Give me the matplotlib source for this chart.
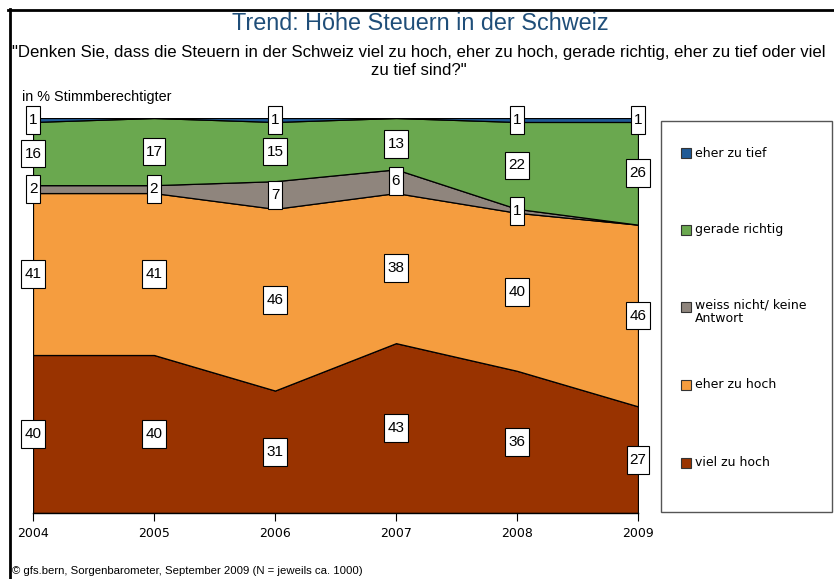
import matplotlib
matplotlib.use("Agg")
import matplotlib.pyplot as plt
from matplotlib.patches import Rectangle
from matplotlib.lines import Line2D
from matplotlib.path import Path
import numpy as np

years = [2004, 2005, 2006, 2007, 2008, 2009]
viel_zu_hoch = [40, 40, 31, 43, 36, 27]
eher_zu_hoch = [41, 41, 46, 38, 40, 46]
weiss_nicht = [2, 2, 7, 6, 1, 0]
gerade_richtig = [16, 17, 15, 13, 22, 26]
eher_zu_tief = [1, 0, 1, 0, 1, 1]

series_names = ["viel zu hoch", "eher zu hoch", "weiss nicht/ keine\nAntwort",
                "gerade richtig", "eher zu tief"]
series_vals = [viel_zu_hoch, eher_zu_hoch, weiss_nicht, gerade_richtig, eher_zu_tief]
colors = ["#993300", "#F59D3F", "#8F857D", "#6AA84F", "#1F5A96"]

title = "Trend: Höhe Steuern in der Schweiz"
subtitle_l1 = ("\"Denken Sie, dass die Steuern in der Schweiz viel zu hoch, eher zu hoch, "
               "gerade richtig, eher zu tief oder viel")
subtitle_l2 = "zu tief sind?\""
ylabel_note = "in % Stimmberechtigter"
footer = "© gfs.bern, Sorgenbarometer, September 2009 (N = jeweils ca. 1000)"

ARIAL = ["Liberation Sans", "DejaVu Sans"]
TAHOMA = ["DejaVu Sans"]
W, H = 834, 579

fig = plt.figure(figsize=(W / 100, H / 100), dpi=100)

def fx(px):
    return px / W

def fy(py):
    return 1 - py / H

ax = fig.add_axes([fx(33), fy(513), fx(638) - fx(33), fy(118) - fy(513)])

x = np.array(years, dtype=float)
base = np.zeros(len(years))
for vals, col in zip(series_vals, colors):
    v = np.array(vals, dtype=float)
    ax.fill_between(x, base, base + v, facecolor=col, edgecolor="black", linewidth=0.9, zorder=2)
    base = base + v

ax.set_xlim(2004, 2009)
ax.set_ylim(0, 100)
ax.set_yticks([])
ax.set_xticks(years)
ax.set_xticklabels([str(y) for y in years], family=TAHOMA, fontsize=9)
ax.tick_params(axis="x", length=6, width=0.8, color="black", pad=4)
for s in ["top", "right", "left"]:
    ax.spines[s].set_visible(False)
ax.spines["bottom"].set_color("black")
ax.spines["bottom"].set_linewidth(1.0)
ax.patch.set_alpha(0)


def make_box(padx, pady):
    def style(x0, y0, width, height, mutation_size):
        px = padx * mutation_size
        py = pady * mutation_size
        xa, ya = x0 - px, y0 - py
        xb, yb = x0 + width + px, y0 + height + py
        return Path([(xa, ya), (xb, ya), (xb, yb), (xa, yb), (xa, ya)], closed=True)
    return style

box = make_box(0.2, 0.45)

base = np.zeros(len(years))
for vals in series_vals:
    for i, (yr, v) in enumerate(zip(years, vals)):
        if v > 0:
            ax.text(yr, base[i] + v / 2.0, str(v), ha="center", va="center",
                    fontsize=11, family=ARIAL, zorder=5, clip_on=False,
                    bbox=dict(boxstyle=box, facecolor="white", edgecolor="black", linewidth=0.8))
    base = base + np.array(vals)

# Titles and notes
fig.text(fx(420), fy(30), title, ha="center", va="baseline", fontsize=16.8,
         color="#1F4E79", family=ARIAL)
fig.text(fx(419), fy(52), subtitle_l1, ha="center", va="center", fontsize=12.1, family=ARIAL)
fig.text(fx(419), fy(70), subtitle_l2, ha="center", va="center", fontsize=12.1, family=ARIAL)
fig.text(fx(22), fy(97), ylabel_note, ha="left", va="center", fontsize=10.4, family=ARIAL)
fig.text(fx(12), fy(571), footer, ha="left", va="center", fontsize=8.2, family=ARIAL)

# Legend (manual box)
fig.patches.append(Rectangle((fx(661), fy(512)), fx(832) - fx(661), fy(121) - fy(512),
                             transform=fig.transFigure, facecolor="white",
                             edgecolor="#555555", linewidth=1.0))
legend_y = [463, 385, 307, 230, 153]
for name, col, ly in zip(series_names, colors, legend_y):
    fig.patches.append(Rectangle((fx(681), fy(ly + 5)), fx(10), 10 / H,
                                 transform=fig.transFigure, facecolor=col,
                                 edgecolor="#333333", linewidth=0.8))
    if "\n" in name:
        fig.text(fx(695), fy(ly - 8), name, ha="left", va="top", fontsize=9,
                 family=TAHOMA, linespacing=1.0)
    else:
        fig.text(fx(695), fy(ly), name, ha="left", va="center", fontsize=9,
                 family=TAHOMA)

# Slide frame lines
fig.add_artist(Line2D([fx(8), fx(834)], [fy(9.5), fy(9.5)], color="black", linewidth=2,
                      transform=fig.transFigure))
fig.add_artist(Line2D([fx(9.5), fx(9.5)], [fy(8.5), fy(579)], color="black", linewidth=2,
                      transform=fig.transFigure))

fig.savefig("out.png", dpi=100)
